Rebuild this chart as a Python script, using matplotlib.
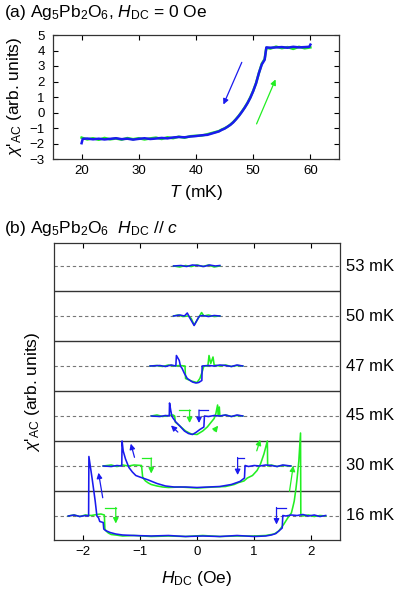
import matplotlib
matplotlib.use("Agg")
import matplotlib.pyplot as plt

plt.rcParams['font.family'] = ['Liberation Sans', 'DejaVu Sans']
plt.rcParams['mathtext.fontset'] = 'custom'
plt.rcParams['mathtext.rm'] = 'Liberation Sans'
plt.rcParams['mathtext.it'] = 'Liberation Sans:italic'
plt.rcParams['mathtext.bf'] = 'Liberation Sans:bold'

GREEN = '#22ee22'
BLUE = '#1a1aee'

# ---------------- panel (a) data ----------------
T_warm = [20, 21, 22, 23, 24, 25, 26, 27, 28, 29, 30, 31, 32, 33, 34, 35, 36, 37, 38, 39,
          40, 41, 42, 43, 44, 44.5, 45, 45.5, 46, 46.5, 47, 47.5, 48, 48.5, 49, 49.5, 50,
          50.5, 51, 51.5, 52, 52.3, 53, 54, 55, 56, 57, 58, 59, 60]
chi_warm = [-1.62, -1.74, -1.66, -1.76, -1.64, -1.73, -1.68, -1.75, -1.65, -1.72, -1.66, -1.74,
            -1.67, -1.62, -1.71, -1.60, -1.66, -1.56, -1.63, -1.53, -1.50, -1.49, -1.40, -1.30,
            -1.20, -1.10, -1.02, -0.92, -0.78, -0.62, -0.42, -0.20, 0.05, 0.32, 0.62, 0.98, 1.40,
            1.90, 2.55, 3.15, 3.45, 4.18, 4.12, 4.25, 4.15, 4.22, 4.10, 4.24, 4.14, 4.20]
T_cool = [20, 20.2, 21, 22, 23, 24, 25, 26, 27, 28, 29, 30, 31, 32, 33, 34, 35, 36, 37, 38, 39,
          40, 41, 42, 43, 44, 44.5, 45, 45.5, 46, 46.5, 47, 47.5, 48, 48.5, 49, 49.5, 50,
          50.5, 51, 51.5, 52, 52.3, 53, 54, 55, 56, 57, 58, 59, 59.8, 60]
chi_cool = [-1.98, -1.70, -1.68, -1.73, -1.69, -1.74, -1.70, -1.66, -1.72, -1.69, -1.75, -1.70,
            -1.66, -1.71, -1.68, -1.64, -1.67, -1.61, -1.58, -1.60, -1.55, -1.52, -1.47, -1.44,
            -1.33, -1.22, -1.12, -1.04, -0.92, -0.80, -0.64, -0.44, -0.22, 0.03, 0.30, 0.60,
            0.95, 1.38, 1.88, 2.55, 3.10, 3.40, 4.20, 4.18, 4.20, 4.22, 4.18, 4.24, 4.20, 4.22,
            4.24, 4.38]

# ---------------- panel (b) data (strip units, relative to each baseline) ----------------
temps = ['16 mK', '30 mK', '45 mK', '47 mK', '50 mK', '53 mK']

H16_up = [-2.25, -2.15, -2.05, -1.95, -1.85, -1.75, -1.68, -1.62, -1.61, -1.58, -1.55, -1.5,
          -1.42, -1.3, -1.1, -0.8, -0.5, -0.2, 0.1, 0.4, 0.7, 1.0, 1.2, 1.35, 1.43, 1.52, 1.58,
          1.61, 1.65, 1.68, 1.7, 1.73, 1.75, 1.78, 1.81, 1.815, 1.85, 1.95, 2.05, 2.15, 2.25]
y16_up = [0.0, 0.02, -0.01, 0.02, 0.01, 0.03, 0.04, 0.02, -0.26, -0.31, -0.34, -0.37,
          -0.38, -0.40, -0.39, -0.41, -0.40, -0.41, -0.39, -0.41, -0.40, -0.40, -0.39, -0.36,
          -0.30, -0.16, -0.05, 0.0, 0.06, 0.2, 0.3, 0.55, 0.75, 1.1, 1.66, 0.02, 0.0, 0.02,
          -0.01, 0.01, 0.0]
H16_dn = [2.25, 2.15, 2.05, 1.95, 1.85, 1.75, 1.65, 1.55, 1.5, 1.49, 1.46, 1.38, 1.3, 1.2,
          1.0, 0.7, 0.4, 0.1, -0.2, -0.5, -0.8, -1.1, -1.3, -1.42, -1.52, -1.6, -1.63, -1.64,
          -1.7, -1.72, -1.75, -1.78, -1.83, -1.89, -1.895, -1.95, -2.05, -2.15, -2.25]
y16_dn = [0.01, -0.01, 0.02, 0.0, 0.03, 0.01, 0.02, 0.0, 0.01, -0.24, -0.27, -0.35, -0.38,
          -0.40, -0.41, -0.39, -0.41, -0.40, -0.41, -0.39, -0.40, -0.39, -0.38, -0.36, -0.33,
          -0.29, -0.26, -0.13, -0.11, -0.04, 0.0, 0.3, 0.72, 1.19, 0.0, 0.01, -0.01, 0.02, 0.0]

H30_up = [-1.64, -1.5, -1.4, -1.3, -1.2, -1.1, -0.97, -0.95, -0.93, -0.9, -0.85, -0.8, -0.7,
          -0.6, -0.5, -0.3, 0.0, 0.3, 0.5, 0.65, 0.73, 0.82, 0.88, 0.97, 1.05, 1.11, 1.17, 1.23,
          1.235, 1.3, 1.4, 1.5, 1.64]
y30_up = [0.0, 0.02, -0.01, 0.02, 0.0, 0.02, 0.01, -0.22, -0.26, -0.30, -0.34, -0.37, -0.40,
          -0.42, -0.43, -0.42, -0.44, -0.42, -0.41, -0.37, -0.33, -0.30, -0.24, -0.19, -0.09,
          0.04, 0.24, 0.50, 0.0, 0.02, -0.01, 0.01, 0.0]
H30_dn = [1.64, 1.5, 1.4, 1.3, 1.2, 1.1, 1.0, 0.9, 0.84, 0.83, 0.75, 0.6, 0.4, 0.2, 0.0, -0.2,
          -0.4, -0.55, -0.7, -0.85, -1.0, -1.07, -1.13, -1.19, -1.25, -1.29, -1.31, -1.315,
          -1.4, -1.5, -1.64]
y30_dn = [0.0, 0.02, -0.01, 0.01, 0.02, 0.0, 0.01, -0.01, 0.01, -0.24, -0.31, -0.37, -0.41,
          -0.42, -0.43, -0.42, -0.42, -0.40, -0.35, -0.28, -0.22, -0.19, -0.12, -0.03, 0.14,
          0.30, 0.50, 0.0, 0.01, -0.01, 0.0]

H45_up = [-0.8, -0.7, -0.6, -0.5, -0.42, -0.39, -0.38, -0.3, -0.2, -0.1, 0.0, 0.1, 0.18, 0.25,
          0.3, 0.33, 0.36, 0.37, 0.39, 0.4, 0.5, 0.6, 0.7, 0.8]
y45_up = [0.0, 0.02, -0.01, 0.01, 0.02, 0.0, -0.12, -0.20, -0.30, -0.36, -0.37, -0.30, -0.22,
          -0.12, -0.05, 0.05, 0.22, 0.0, 0.18, 0.0, 0.02, -0.01, 0.01, 0.0]
H45_dn = [0.8, 0.7, 0.6, 0.5, 0.4, 0.3, 0.2, 0.13, 0.12, 0.05, -0.02, -0.08, -0.15, -0.22,
          -0.3, -0.37, -0.42, -0.44, -0.46, -0.48, -0.485, -0.55, -0.65, -0.8]
y45_dn = [0.0, 0.02, -0.01, 0.02, 0.0, 0.01, -0.01, 0.0, -0.22, -0.27, -0.33, -0.37, -0.35,
          -0.30, -0.20, -0.12, -0.04, 0.0, 0.12, 0.26, 0.0, 0.01, -0.01, 0.0]

H47_up = [-0.82, -0.7, -0.6, -0.5, -0.4, -0.3, -0.21, -0.2, -0.1, 0.0, 0.05, 0.09, 0.12, 0.19,
          0.21, 0.24, 0.28, 0.3, 0.4, 0.5, 0.6, 0.7, 0.8]
y47_up = [0.0, 0.01, -0.01, 0.02, 0.0, 0.01, 0.0, -0.25, -0.30, -0.33, -0.25, -0.12, 0.0,
          0.0, 0.21, 0.05, 0.18, 0.02, 0.0, 0.02, -0.01, 0.01, 0.0]
H47_dn = [0.8, 0.7, 0.6, 0.5, 0.4, 0.3, 0.2, 0.09, 0.085, 0.03, -0.02, -0.08, -0.17, -0.22,
          -0.26, -0.29, -0.31, -0.36, -0.37, -0.45, -0.55, -0.65, -0.82]
y47_dn = [0.0, 0.02, -0.01, 0.01, 0.02, 0.0, 0.01, 0.0, -0.29, -0.33, -0.34, -0.32, -0.25,
          -0.15, -0.05, 0.0, 0.11, 0.21, 0.0, 0.02, -0.01, 0.01, 0.0]

H50_up = [-0.41, -0.33, -0.25, -0.15, -0.1, -0.05, 0.02, 0.08, 0.12, 0.2, 0.3, 0.4]
y50_up = [0.0, 0.02, -0.01, 0.0, -0.05, -0.18, -0.05, 0.07, 0.0, 0.02, -0.01, 0.0]
H50_dn = [0.4, 0.3, 0.2, 0.1, 0.05, 0.03, -0.05, -0.12, -0.17, -0.22, -0.3, -0.41]
y50_dn = [0.0, 0.01, -0.01, 0.01, 0.0, -0.02, -0.19, -0.05, 0.06, 0.0, 0.02, 0.0]

H53_up = [-0.41, -0.3, -0.2, -0.1, 0.0, 0.1, 0.2, 0.3, 0.4]
y53_up = [0.0, -0.02, 0.01, -0.01, 0.02, -0.01, 0.02, -0.02, 0.0]
H53_dn = [0.4, 0.32, 0.22, 0.12, 0.02, -0.08, -0.18, -0.28, -0.41]
y53_dn = [0.01, 0.0, 0.02, -0.01, 0.01, 0.02, -0.01, 0.01, 0.0]

up_H = [H16_up, H30_up, H45_up, H47_up, H50_up, H53_up]
up_y = [y16_up, y30_up, y45_up, y47_up, y50_up, y53_up]
dn_H = [H16_dn, H30_dn, H45_dn, H47_dn, H50_dn, H53_dn]
dn_y = [y16_dn, y30_dn, y45_dn, y47_dn, y50_dn, y53_dn]

# arrows (tail -> head) in (H, strip units) for panel (b): (strip, color, x0, y0, x1, y1)
arrows_b = [(0, BLUE, -1.64, 0.31, -1.73, 0.92), (0, GREEN, 1.61, 0.44, 1.69, 1.06),
            (1, BLUE, -1.08, 0.12, -1.17, 0.50), (1, GREEN, 1.03, 0.25, 1.12, 0.58),
            (2, BLUE, -0.30, -0.36, -0.49, -0.15), (2, GREEN, 0.27, -0.34, 0.40, -0.15)]
# hooks: (strip, color, x_start, x_turn, y_top, y_end)
hooks_b = [(0, GREEN, -1.61, -1.42, 0.17, -0.15), (0, BLUE, 1.55, 1.39, 0.17, -0.17),
           (1, GREEN, -0.97, -0.80, 0.16, -0.15), (1, BLUE, 0.83, 0.71, 0.17, -0.18),
           (2, GREEN, -0.31, -0.13, 0.12, -0.14), (2, BLUE, 0.19, 0.035, 0.12, -0.14)]

TICK_FS = 9.5
LABEL_FS = 12.5
TITLE_FS = 12.5
TEMP_FS = 12
YLABEL = "$\\chi$'$_{\\rm AC}$ (arb. units)"

fig = plt.figure(figsize=(3.99, 5.92), dpi=100)

# ---------------- panel (a) ----------------
axa = fig.add_axes([53/399, 1-159/592, 286/399, 124/592])
axa.plot(T_warm, chi_warm, color=GREEN, lw=1.8)
axa.plot(T_cool, chi_cool, color=BLUE, lw=1.8)
axa.annotate('', xy=(44.6, 0.35), xytext=(48.2, 3.4),
             arrowprops=dict(arrowstyle='-|>', color=BLUE, lw=0.9, mutation_scale=8))
axa.annotate('', xy=(54.1, 2.3), xytext=(50.4, -0.9),
             arrowprops=dict(arrowstyle='-|>', color=GREEN, lw=0.9, mutation_scale=8))
axa.set_xlim(15, 65)
axa.set_ylim(-3, 5)
axa.set_xticks([20, 30, 40, 50, 60])
axa.set_yticks([-3, -2, -1, 0, 1, 2, 3, 4, 5])
axa.tick_params(direction='in', top=True, right=True, length=3.5, width=0.8,
                labelsize=TICK_FS)
axa.tick_params(axis='x', pad=4.5)
axa.tick_params(axis='y', pad=6)
axa.set_xlabel('$T$ (mK)', fontsize=LABEL_FS)
axa.set_ylabel(YLABEL, fontsize=LABEL_FS)
axa.xaxis.set_label_coords(0.5, (159-192)/124)
axa.yaxis.set_label_coords((15-53)/286, 0.5)
axa.xaxis.label.set_va('center')
axa.yaxis.label.set_va('center')
for s in axa.spines.values():
    s.set_linewidth(0.9)
    s.set_color('#333333')
fig.text(0.01, 1-13/592, '(a) Ag$_5$Pb$_2$O$_6$, $H_{\\rm DC}$ = 0 Oe', fontsize=TITLE_FS,
         va='center', ha='left')

# ---------------- panel (b) ----------------
axb = fig.add_axes([54/399, 1-540/592, 286/399, 297/592])
for i in range(len(temps)):
    axb.axhline(i, color='#777777', lw=0.8, ls=(0, (3, 2.5)), zorder=1)
    if i > 0:
        axb.axhline(i - 0.5, color='#333333', lw=1.0, zorder=1)
    axb.plot(up_H[i], [v + i for v in up_y[i]], color=GREEN, lw=1.15, zorder=3)
    axb.plot(dn_H[i], [v + i for v in dn_y[i]], color=BLUE, lw=1.15, zorder=4)
    axb.text(1.02, i, temps[i], transform=axb.get_yaxis_transform(), fontsize=TEMP_FS,
             va='center', ha='left')
for (k, c, x0, y0, x1, y1) in arrows_b:
    axb.annotate('', xy=(x1, y1 + k), xytext=(x0, y0 + k),
                 arrowprops=dict(arrowstyle='-|>', color=c, lw=0.9, mutation_scale=8),
                 zorder=5)
for (k, c, xs, xt, yt, ye) in hooks_b:
    axb.plot([xs, xt], [yt + k, yt + k], color=c, lw=0.9, zorder=5)
    axb.annotate('', xy=(xt, ye + k), xytext=(xt, yt + k),
                 arrowprops=dict(arrowstyle='-|>', color=c, lw=0.9, mutation_scale=8,
                                 shrinkA=0, shrinkB=0), zorder=5)
axb.set_xlim(-2.5, 2.5)
axb.set_ylim(-0.48, 5.46)
axb.set_xticks([-2, -1, 0, 1, 2])
axb.set_yticks([])
axb.tick_params(direction='in', top=True, length=3.5, width=0.8, labelsize=TICK_FS, pad=4.5)
axb.set_xlabel('$H_{\\rm DC}$ (Oe)', fontsize=LABEL_FS)
axb.set_ylabel(YLABEL, fontsize=LABEL_FS)
axb.xaxis.set_label_coords(0.5, (540-579)/297)
axb.yaxis.set_label_coords((32-54)/286, 0.5)
axb.xaxis.label.set_va('center')
axb.yaxis.label.set_va('center')
for s in axb.spines.values():
    s.set_linewidth(0.9)
    s.set_color('#333333')
fig.text(0.01, 1-229/592, '(b) Ag$_5$Pb$_2$O$_6$  $H_{\\rm DC}$ // $c$', fontsize=TITLE_FS,
         va='center', ha='left')

fig.savefig('out.png', dpi=100)
